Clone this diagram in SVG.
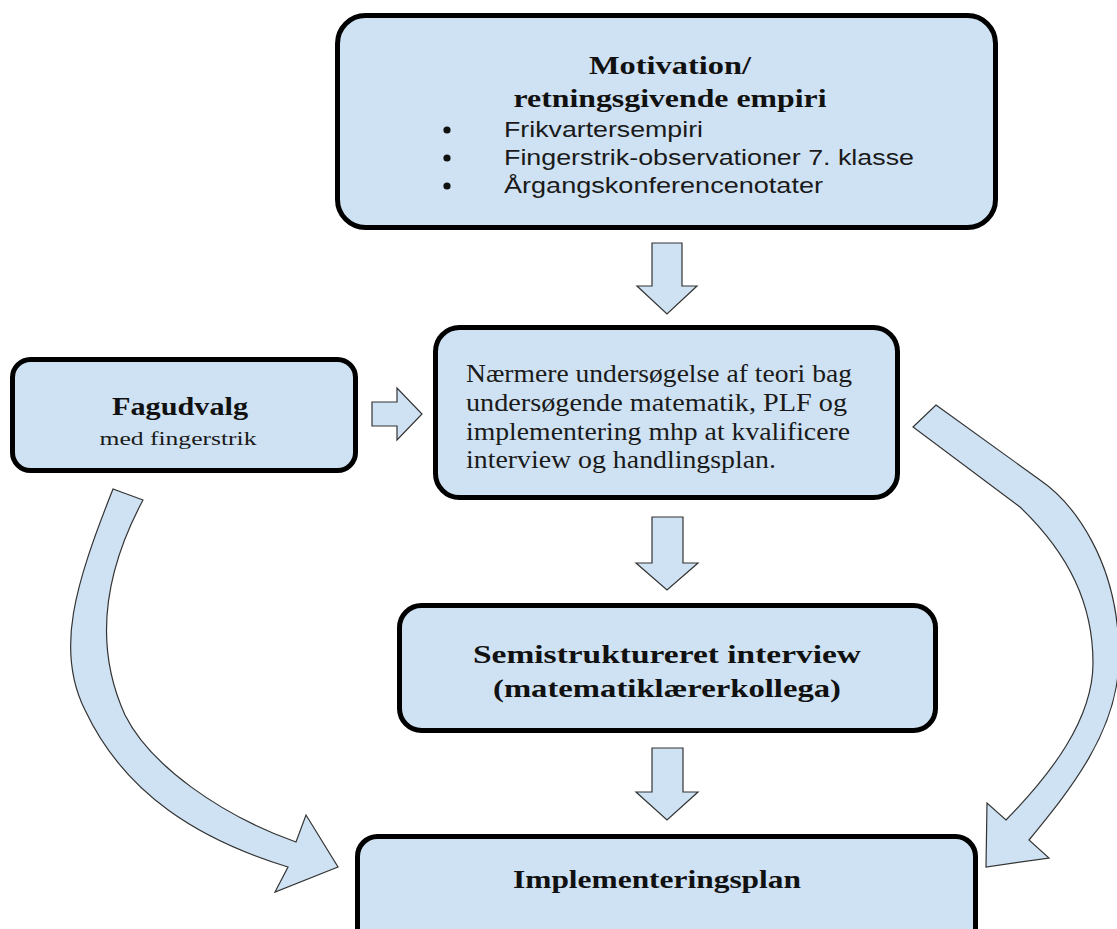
<svg xmlns="http://www.w3.org/2000/svg" width="1117" height="929" viewBox="0 0 1117 929">
<defs>
<style>
.box{fill:#cfe2f3;stroke:#000;stroke-width:5}
.arr{fill:#cfe2f3;stroke:#333;stroke-width:1.2;stroke-linejoin:miter}
.tb{font-family:"Liberation Serif",serif;font-weight:bold;fill:#111}
.tr{font-family:"Liberation Serif",serif;fill:#1a1a1a}
.ts{font-family:"Liberation Sans",Arial,sans-serif;fill:#1a1a1a}
</style>
</defs>
<rect width="1117" height="929" fill="#fff"/>
<g id="connectors">
<path class="arr" d="M652,243 H682 V286 H697 L667,314 L637,286 H652 Z"/>
<path class="arr" d="M372,402 H397 V388 L422,414 L397,440 V426 H372 Z"/>
<path class="arr" d="M652,517 H683 V563 H698 L667,590 L636,563 H652 Z"/>
<path class="arr" d="M652,748 H683 V792 H698 L667,820 L636,792 H652 Z"/>
<path class="arr" d="M113,489 C75,585 55,650 85,710 C125,795 200,840 288,867 L275,892 L338,867 L306,815 L296,842 C220,815 150,765 125,715 C100,660 95,590 143,500 Z"/>
<path class="arr" d="M936,405 L1040,480 C1072,502 1119,560 1119,657 C1119,730 1070,790 1029,840 L1049,858 L986,867 L987,803 L1006,820 C1050,775 1093,720 1093,663 C1093,605 1070,555 1020,507 L913,427 Z"/>
</g>
<g id="motivation">
<rect class="box" x="337.5" y="15.5" width="658" height="212" rx="28"/>
<text class="tb" font-size="26" x="670" y="74" text-anchor="middle" textLength="162" lengthAdjust="spacingAndGlyphs">Motivation/</text>
<text class="tb" font-size="26" x="670" y="107" text-anchor="middle" textLength="313" lengthAdjust="spacingAndGlyphs">retningsgivende empiri</text>
<circle cx="447" cy="130" r="3.6" fill="#111"/>
<circle cx="447" cy="158" r="3.6" fill="#111"/>
<circle cx="447" cy="186" r="3.6" fill="#111"/>
<text class="ts" font-size="22" x="504" y="137" textLength="199" lengthAdjust="spacingAndGlyphs">Frikvartersempiri</text>
<text class="ts" font-size="22" x="504" y="165" textLength="410" lengthAdjust="spacingAndGlyphs">Fingerstrik-observationer 7. klasse</text>
<text class="ts" font-size="22" x="504" y="193" textLength="319" lengthAdjust="spacingAndGlyphs">Årgangskonferencenotater</text>
</g>
<g id="fagudvalg">
<rect class="box" x="12.5" y="359.5" width="343" height="111" rx="18"/>
<text class="tb" font-size="25" x="180" y="415" text-anchor="middle" textLength="136" lengthAdjust="spacingAndGlyphs">Fagudvalg</text>
<text class="tr" font-size="19" x="178" y="445" text-anchor="middle" textLength="157" lengthAdjust="spacingAndGlyphs">med fingerstrik</text>
</g>
<g id="teori">
<rect class="box" x="435.5" y="327.5" width="462" height="170" rx="24"/>
<text class="tr" font-size="26" x="466" y="382" textLength="386" lengthAdjust="spacingAndGlyphs">Nærmere undersøgelse af teori bag</text>
<text class="tr" font-size="26" x="466" y="411" textLength="381" lengthAdjust="spacingAndGlyphs">undersøgende matematik, PLF og</text>
<text class="tr" font-size="26" x="466" y="440" textLength="384" lengthAdjust="spacingAndGlyphs">implementering mhp at kvalificere</text>
<text class="tr" font-size="26" x="466" y="468" textLength="310" lengthAdjust="spacingAndGlyphs">interview og handlingsplan.</text>
</g>
<g id="interview">
<rect class="box" x="399.5" y="605.5" width="536" height="125" rx="22"/>
<text class="tb" font-size="26" x="667" y="663" text-anchor="middle" textLength="388" lengthAdjust="spacingAndGlyphs">Semistruktureret interview</text>
<text class="tb" font-size="26" x="667" y="697" text-anchor="middle" textLength="348" lengthAdjust="spacingAndGlyphs">(matematiklærerkollega)</text>
</g>
<g id="implementeringsplan">
<rect class="box" x="357.5" y="836.5" width="618" height="140" rx="20"/>
<text class="tb" font-size="25" x="657" y="888" text-anchor="middle" textLength="288" lengthAdjust="spacingAndGlyphs">Implementeringsplan</text>
</g>
</svg>
